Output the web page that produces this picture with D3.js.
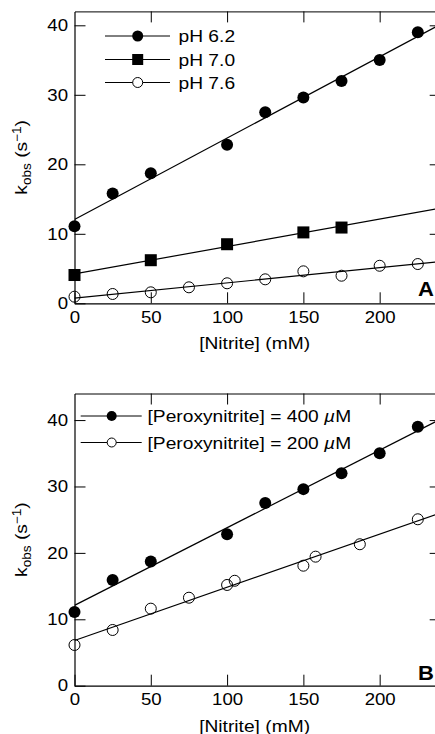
<!DOCTYPE html>
<html>
<head>
<meta charset="utf-8">
<script src="https://cdn.jsdelivr.net/npm/d3@7"></script>
<style>
  html, body { margin: 0; padding: 0; background: #fff; }
  svg { display: block; }
</style>
</head>
<body>
<script>
// ---- data ----
const xTicks = [0, 50, 100, 150, 200];
const yTicks = [0, 10, 20, 30, 40];

// Panel A: pH dependence
const nitrite62 = [0, 25, 50, 100, 125, 150, 175, 200, 225];
const kobs62 = [11.1, 15.8, 18.7, 22.8, 27.5, 29.6, 32.0, 35.0, 39.0];
const nitrite70 = [0, 50, 100, 150, 175];
const kobs70 = [4.07, 6.2, 8.5, 10.2, 10.9];
const nitrite76 = [0, 25, 50, 75, 100, 125, 150, 175, 200, 225];
const kobs76 = [0.95, 1.34, 1.58, 2.3, 2.88, 3.45, 4.6, 3.97, 5.4, 5.65];
const legendA = ["pH 6.2", "pH 7.0", "pH 7.6"];

// Panel B: peroxynitrite concentration dependence
const nitrite400 = [0, 25, 50, 100, 125, 150, 175, 200, 225];
const kobs400 = [11.1, 15.9, 18.7, 22.8, 27.5, 29.6, 32.0, 35.0, 39.0];
const nitrite200 = [0, 25, 50, 75, 100, 105, 150, 158, 187, 225];
const kobs200 = [6.13, 8.39, 11.6, 13.25, 15.17, 15.8, 18.07, 19.43, 21.3, 25.06];
const legendB = ["400", "200"];

// ---- drawing ----
const W = 435, H = 734;
const FONT = "'Liberation Sans', Arial, Helvetica, sans-serif";
const SX = 1.13; // horizontal stretch applied to all lettering

const svg = d3.select("body").append("svg")
  .attr("width", W).attr("height", H)
  .attr("viewBox", `0 0 ${W} ${H}`);

function fit(xs, ys) {
  const mx = d3.mean(xs), my = d3.mean(ys);
  let sxy = 0, sxx = 0;
  xs.forEach((x, i) => { sxy += (x - mx) * (ys[i] - my); sxx += (x - mx) ** 2; });
  const b = sxy / sxx;
  return { slope: b, icpt: my - b * mx };
}

function marker(sel, type, r, legendMark) {
  if (type === "square") {
    sel.append("rect")
      .attr("x", -r).attr("y", -r).attr("width", 2 * r).attr("height", 2 * r)
      .attr("fill", "#000");
  } else if (type === "filled") {
    sel.append("circle").attr("r", r).attr("fill", "#000");
  } else {
    sel.append("circle").attr("r", r - 0.5)
      .attr("fill", legendMark ? "#fff" : "none")
      .attr("stroke", "#000").attr("stroke-width", 1);
  }
}

function stretchText(g, x, y, size, anchor) {
  return g.append("text")
    .attr("transform", `translate(${x},${y}) scale(${SX},1)`)
    .attr("text-anchor", anchor || "start")
    .attr("font-family", FONT)
    .attr("font-size", size)
    .attr("fill", "#000");
}

function panel(cfg) {
  const g = svg.append("g");
  const x = d3.scaleLinear().domain([0, 240]).range([74.5, 440.7]);
  const y = d3.scaleLinear().domain([0, cfg.ymax]).range([cfg.bottom, cfg.top]);
  const [x0, x1] = x.range();

  const clipId = "clip" + cfg.tag;
  g.append("clipPath").attr("id", clipId).append("rect")
    .attr("x", x0).attr("y", y.range()[1])
    .attr("width", x1 - x0).attr("height", cfg.bottom - cfg.top);

  // axes: ticks point inward on all four sides
  const styleAxis = a => {
    a.attr("font-family", FONT).attr("font-size", 16.5);
    a.select(".domain").attr("stroke", "#000").attr("stroke-width", 1.2);
    a.selectAll(".tick line").attr("stroke", "#000").attr("stroke-width", 1);
    a.selectAll(".tick text").attr("fill", "#000");
  };
  const bottomAx = g.append("g").attr("transform", `translate(0,${cfg.bottom})`)
    .call(d3.axisBottom(x).tickValues(xTicks).tickSizeInner(-11).tickSizeOuter(0).tickPadding(8));
  styleAxis(bottomAx);
  bottomAx.selectAll(".tick text").attr("transform", `scale(${SX},1)`);

  const topAx = g.append("g").attr("transform", `translate(0,${cfg.top})`)
    .call(d3.axisTop(x).tickValues(xTicks.slice(1)).tickSizeInner(-11).tickSizeOuter(0).tickFormat(""));
  styleAxis(topAx);
  topAx.select(".domain").attr("stroke-width", 1);

  const leftAx = g.append("g").attr("transform", `translate(${x0},0)`)
    .call(d3.axisLeft(y).tickValues(yTicks).tickSizeInner(-11).tickSizeOuter(0).tickPadding(6.5));
  styleAxis(leftAx);
  leftAx.selectAll(".tick text")
    .attr("x", -6.5 / SX)
    .attr("transform", `scale(${SX},1)`);

  const rightAx = g.append("g").attr("transform", `translate(${x1},0)`)
    .call(d3.axisRight(y).tickValues(yTicks.slice(1)).tickSizeInner(-11).tickSizeOuter(0).tickFormat(""));
  styleAxis(rightAx);

  // fitted lines and data points
  const plot = g.append("g").attr("clip-path", `url(#${clipId})`);
  const line = d3.line().x(d => x(d[0])).y(d => y(d[1]));
  cfg.series.forEach(s => {
    const f = fit(s.xs, s.ys);
    plot.append("path")
      .datum([[0, f.icpt], [240, f.icpt + f.slope * 240]])
      .attr("d", line)
      .attr("fill", "none").attr("stroke", "#000").attr("stroke-width", 1.2);
  });
  cfg.series.forEach(s => {
    s.xs.forEach((xv, i) => {
      const m = g.append("g").attr("transform", `translate(${x(xv)},${y(s.ys[i])})`);
      marker(m, s.type, s.r, false);
    });
  });

  // legend
  const lg = g.append("g");
  cfg.series.forEach((s, i) => {
    const ly = cfg.legend.ys[i];
    lg.append("line")
      .attr("x1", cfg.legend.x1).attr("x2", cfg.legend.x2)
      .attr("y1", ly).attr("y2", ly)
      .attr("stroke", "#000").attr("stroke-width", 1);
    const m = lg.append("g").attr("transform", `translate(${cfg.legend.xm},${ly})`);
    marker(m, s.type, cfg.legend.r, true);
    cfg.legend.label(stretchText(lg, cfg.legend.xt, ly + 6.2, 17), i);
  });

  // panel tag
  stretchText(g, 434, cfg.tagY, 19.5, "end")
    .attr("font-weight", "bold").text(cfg.tag);

  // axis titles
  stretchText(g, (x0 + 440.7) / 2 - 3, cfg.bottom + 46, 17, "middle").text("[Nitrite] (mM)");

  const yt = g.append("text")
    .attr("transform", `translate(26.5,${(cfg.top + cfg.bottom) / 2}) rotate(-90) scale(${SX},1)`)
    .attr("text-anchor", "middle")
    .attr("font-family", FONT).attr("font-size", 17).attr("fill", "#000");
  yt.append("tspan").text("k");
  yt.append("tspan").attr("font-size", 12).attr("dy", 4).text("obs");
  yt.append("tspan").attr("dy", -4).text(" (s");
  yt.append("tspan").attr("font-size", 12).attr("dy", -6).text("−1");
  yt.append("tspan").attr("dy", 6).text(")");
}

panel({
  tag: "A", top: 11.4, bottom: 303.3, ymax: 42, tagY: 296,
  series: [
    { xs: nitrite62, ys: kobs62, type: "filled", r: 6 },
    { xs: nitrite70, ys: kobs70, type: "square", r: 6 },
    { xs: nitrite76, ys: kobs76, type: "open", r: 6 }
  ],
  legend: {
    x1: 105, x2: 170, xm: 137.7, xt: 178.5, r: 5.5, ys: [36, 59.5, 82.5],
    label: (t, i) => t.text(legendA[i])
  }
});

panel({
  tag: "B", top: 393.5, bottom: 685.7, ymax: 44, tagY: 680,
  series: [
    { xs: nitrite400, ys: kobs400, type: "filled", r: 6 },
    { xs: nitrite200, ys: kobs200, type: "open", r: 6 }
  ],
  legend: {
    x1: 80.7, x2: 141.7, xm: 111.7, xt: 147.5, r: 5, ys: [416, 442.5],
    label: (t, i) => {
      t.append("tspan").text(`[Peroxynitrite] = ${legendB[i]} `);
      t.append("tspan").attr("font-style", "italic").text("µ");
      t.append("tspan").text("M");
    }
  }
});
</script>
</body>
</html>
